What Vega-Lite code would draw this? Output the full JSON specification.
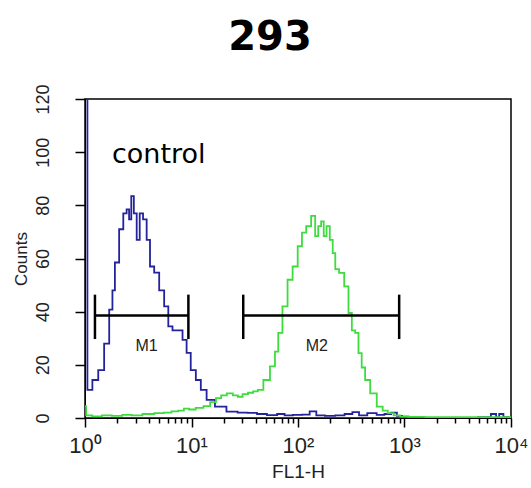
{
  "$schema": "https://vega.github.io/schema/vega-lite/v6.json",
  "width": 426,
  "height": 319,
  "autosize": {"type": "none"},
  "padding": {"left": 85, "top": 99, "right": 20, "bottom": 70},
  "background": "white",
  "title": {"text": "293", "font": "DejaVu Sans", "fontWeight": "bold", "fontSize": 40, "color": "black", "anchor": "middle", "dx": -28, "offset": 26},
  "config": {
    "view": {"stroke": "black", "strokeWidth": 1.5},
    "axis": {"grid": false, "domainColor": "black", "tickColor": "black", "labelColor": "#222", "titleColor": "#222", "labelFont": "Liberation Sans", "titleFont": "Liberation Sans", "titleFontWeight": "normal"}
  },
  "datasets": {
    "hist": [
      {"series": "control", "x": 1, "y": 130},
      {"series": "control", "x": 1.11, "y": 10.6},
      {"series": "control", "x": 1.24, "y": 14.3},
      {"series": "control", "x": 1.43, "y": 18},
      {"series": "control", "x": 1.6, "y": 28},
      {"series": "control", "x": 1.78, "y": 40.8},
      {"series": "control", "x": 1.84, "y": 48},
      {"series": "control", "x": 1.98, "y": 58.5},
      {"series": "control", "x": 2.21, "y": 71},
      {"series": "control", "x": 2.37, "y": 77},
      {"series": "control", "x": 2.55, "y": 78.5},
      {"series": "control", "x": 2.64, "y": 74.7},
      {"series": "control", "x": 2.8, "y": 83.5},
      {"series": "control", "x": 2.95, "y": 77},
      {"series": "control", "x": 3.17, "y": 67},
      {"series": "control", "x": 3.36, "y": 77},
      {"series": "control", "x": 3.66, "y": 74.7},
      {"series": "control", "x": 3.93, "y": 67},
      {"series": "control", "x": 4.23, "y": 57},
      {"series": "control", "x": 4.71, "y": 54.7},
      {"series": "control", "x": 5.25, "y": 48},
      {"series": "control", "x": 5.84, "y": 42},
      {"series": "control", "x": 6.28, "y": 34.5},
      {"series": "control", "x": 7.0, "y": 33},
      {"series": "control", "x": 7.8, "y": 33},
      {"series": "control", "x": 8.7, "y": 29.4},
      {"series": "control", "x": 9.3, "y": 24.5},
      {"series": "control", "x": 10.4, "y": 18},
      {"series": "control", "x": 11.6, "y": 14.3},
      {"series": "control", "x": 12.9, "y": 10.6},
      {"series": "control", "x": 14.9, "y": 6.8},
      {"series": "control", "x": 18.5, "y": 4.3},
      {"series": "control", "x": 24.5, "y": 2.4},
      {"series": "control", "x": 30, "y": 2.0},
      {"series": "control", "x": 37.8, "y": 1.9},
      {"series": "control", "x": 45, "y": 1.5},
      {"series": "control", "x": 58, "y": 1.1},
      {"series": "control", "x": 70, "y": 1.5},
      {"series": "control", "x": 80, "y": 1.0},
      {"series": "control", "x": 100, "y": 1.2},
      {"series": "control", "x": 120, "y": 1.3},
      {"series": "control", "x": 138, "y": 2.5},
      {"series": "control", "x": 160, "y": 1.0},
      {"series": "control", "x": 200, "y": 0.8},
      {"series": "control", "x": 250, "y": 1.0},
      {"series": "control", "x": 300, "y": 1.5},
      {"series": "control", "x": 350, "y": 2.2},
      {"series": "control", "x": 400, "y": 1.0},
      {"series": "control", "x": 500, "y": 1.8},
      {"series": "control", "x": 600, "y": 1.2},
      {"series": "control", "x": 700, "y": 1.5},
      {"series": "control", "x": 800, "y": 2.0},
      {"series": "control", "x": 900, "y": 0.8},
      {"series": "control", "x": 1000, "y": 0.5},
      {"series": "control", "x": 1200, "y": 0.2},
      {"series": "control", "x": 2000, "y": 0},
      {"series": "control", "x": 4000, "y": 0},
      {"series": "control", "x": 6000, "y": 0.3},
      {"series": "control", "x": 7000, "y": 1.5},
      {"series": "control", "x": 7500, "y": 0.2},
      {"series": "control", "x": 8000, "y": 1.5},
      {"series": "control", "x": 9000, "y": 0.3},
      {"series": "control", "x": 10000, "y": 0},
      {"series": "sample", "x": 1, "y": 4.5},
      {"series": "sample", "x": 1.05, "y": 1.0},
      {"series": "sample", "x": 1.3, "y": 0.6},
      {"series": "sample", "x": 1.6, "y": 1.0},
      {"series": "sample", "x": 2, "y": 0.8},
      {"series": "sample", "x": 2.5, "y": 1.2},
      {"series": "sample", "x": 3, "y": 1.0},
      {"series": "sample", "x": 4, "y": 1.5},
      {"series": "sample", "x": 5, "y": 1.8},
      {"series": "sample", "x": 6, "y": 2.0},
      {"series": "sample", "x": 7, "y": 2.5},
      {"series": "sample", "x": 8, "y": 2.8},
      {"series": "sample", "x": 9, "y": 3.5},
      {"series": "sample", "x": 10, "y": 3.2},
      {"series": "sample", "x": 12, "y": 3.8},
      {"series": "sample", "x": 14, "y": 4.5},
      {"series": "sample", "x": 16, "y": 6},
      {"series": "sample", "x": 18, "y": 7.5},
      {"series": "sample", "x": 20, "y": 8.5},
      {"series": "sample", "x": 23, "y": 9.3},
      {"series": "sample", "x": 26, "y": 8.5},
      {"series": "sample", "x": 28.5, "y": 8},
      {"series": "sample", "x": 32, "y": 9},
      {"series": "sample", "x": 36, "y": 9.5},
      {"series": "sample", "x": 40, "y": 10},
      {"series": "sample", "x": 44, "y": 10.6},
      {"series": "sample", "x": 50.8, "y": 14.3},
      {"series": "sample", "x": 58.6, "y": 19.4},
      {"series": "sample", "x": 63, "y": 25},
      {"series": "sample", "x": 67.6, "y": 32},
      {"series": "sample", "x": 75.5, "y": 42},
      {"series": "sample", "x": 84.3, "y": 52},
      {"series": "sample", "x": 94, "y": 57},
      {"series": "sample", "x": 105, "y": 64.6},
      {"series": "sample", "x": 113, "y": 69.7},
      {"series": "sample", "x": 126, "y": 72.2},
      {"series": "sample", "x": 140, "y": 76},
      {"series": "sample", "x": 150, "y": 68.4},
      {"series": "sample", "x": 160, "y": 72.2},
      {"series": "sample", "x": 170, "y": 74},
      {"series": "sample", "x": 179, "y": 68.4},
      {"series": "sample", "x": 192, "y": 72.2},
      {"series": "sample", "x": 206, "y": 67},
      {"series": "sample", "x": 218, "y": 62},
      {"series": "sample", "x": 230, "y": 56},
      {"series": "sample", "x": 257, "y": 54.6},
      {"series": "sample", "x": 287, "y": 49.5},
      {"series": "sample", "x": 309, "y": 39.5},
      {"series": "sample", "x": 332, "y": 33},
      {"series": "sample", "x": 357, "y": 32},
      {"series": "sample", "x": 383, "y": 24.4},
      {"series": "sample", "x": 410, "y": 19},
      {"series": "sample", "x": 444, "y": 14.3},
      {"series": "sample", "x": 511, "y": 9.3},
      {"series": "sample", "x": 590, "y": 4.3},
      {"series": "sample", "x": 660, "y": 2.8},
      {"series": "sample", "x": 735, "y": 1.8},
      {"series": "sample", "x": 850, "y": 1.0},
      {"series": "sample", "x": 979, "y": 0.5},
      {"series": "sample", "x": 1200, "y": 0.4},
      {"series": "sample", "x": 2000, "y": 0.3},
      {"series": "sample", "x": 5000, "y": 0.3},
      {"series": "sample", "x": 10000, "y": 0.3}
    ],
    "markers": [
      {"label": "M1", "x1": 1.24, "x2": 9.35, "y": 38.6, "ylo": 29.7, "yhi": 46.4, "lx": 3.79, "ly": 27},
      {"label": "M2", "x1": 30.6, "x2": 891, "y": 38.6, "ylo": 29.7, "yhi": 46.4, "lx": 150, "ly": 27}
    ],
    "notes": [
      {"text": "control", "x": 1.79, "y": 99}
    ]
  },
  "layer": [
    {
      "data": {"name": "hist"},
      "mark": {"type": "line", "interpolate": "step", "strokeWidth": 1.8, "clip": true},
      "encoding": {
        "x": {"field": "x", "type": "quantitative", "scale": {"type": "log", "domain": [1, 10000], "nice": false},
          "axis": {"title": "FL1-H", "titleFontSize": 19, "titlePadding": 6,
            "values": [1,2,3,4,5,6,7,8,9,10,20,30,40,50,60,70,80,90,100,200,300,400,500,600,700,800,900,1000,2000,3000,4000,5000,6000,7000,8000,9000,10000],
            "labelExpr": "datum.value==1?'10⁰':datum.value==10?'10¹':datum.value==100?'10²':datum.value==1000?'10³':datum.value==10000?'10⁴':''",
            "labelFontSize": 22, "labelOverlap": false, "labelFlush": false, "labelPadding": 8, "tickWidth": 1.5,
            "tickSize": {"condition": {"test": "datum.value==1||datum.value==10||datum.value==100||datum.value==1000||datum.value==10000", "value": 9}, "value": 5}}},
        "y": {"field": "y", "type": "quantitative", "scale": {"domain": [0, 120], "nice": false},
          "axis": {"title": "Counts", "titleFontSize": 17, "titlePadding": 4,
            "values": [0,5,10,15,20,25,30,35,40,45,50,55,60,65,70,75,80,85,90,95,100,105,110,115,120],
            "labelExpr": "datum.value % 20 === 0 ? datum.label : ''",
            "labelAngle": -90, "labelAlign": "center", "labelBaseline": "middle", "labelFontSize": 18, "labelOverlap": false, "labelFlush": false, "labelPadding": 32, "tickWidth": 1.5,
            "tickSize": {"condition": {"test": "datum.value % 20 === 0", "value": 10}, "value": 6}}},
        "color": {"field": "series", "type": "nominal", "scale": {"domain": ["control", "sample"], "range": ["#23239c", "#3fdc3f"]}, "legend": null}
      }
    },
    {
      "data": {"name": "markers"},
      "mark": {"type": "rule", "color": "black", "strokeWidth": 2.5},
      "encoding": {"x": {"field": "x1", "type": "quantitative"}, "x2": {"field": "x2"}, "y": {"field": "y", "type": "quantitative"}}
    },
    {
      "data": {"name": "markers"},
      "mark": {"type": "rule", "color": "black", "strokeWidth": 2.5},
      "encoding": {"x": {"field": "x1", "type": "quantitative"}, "y": {"field": "ylo", "type": "quantitative"}, "y2": {"field": "yhi"}}
    },
    {
      "data": {"name": "markers"},
      "mark": {"type": "rule", "color": "black", "strokeWidth": 2.5},
      "encoding": {"x": {"field": "x2", "type": "quantitative"}, "y": {"field": "ylo", "type": "quantitative"}, "y2": {"field": "yhi"}}
    },
    {
      "data": {"name": "markers"},
      "mark": {"type": "text", "font": "Liberation Sans", "fontSize": 16, "color": "#222", "align": "center", "baseline": "middle"},
      "encoding": {"x": {"field": "lx", "type": "quantitative"}, "y": {"field": "ly", "type": "quantitative"}, "text": {"field": "label"}}
    },
    {
      "data": {"name": "notes"},
      "mark": {"type": "text", "font": "DejaVu Sans", "fontSize": 27, "color": "black", "align": "left", "baseline": "middle"},
      "encoding": {"x": {"field": "x", "type": "quantitative"}, "y": {"field": "y", "type": "quantitative"}, "text": {"field": "text"}}
    }
  ]
}
